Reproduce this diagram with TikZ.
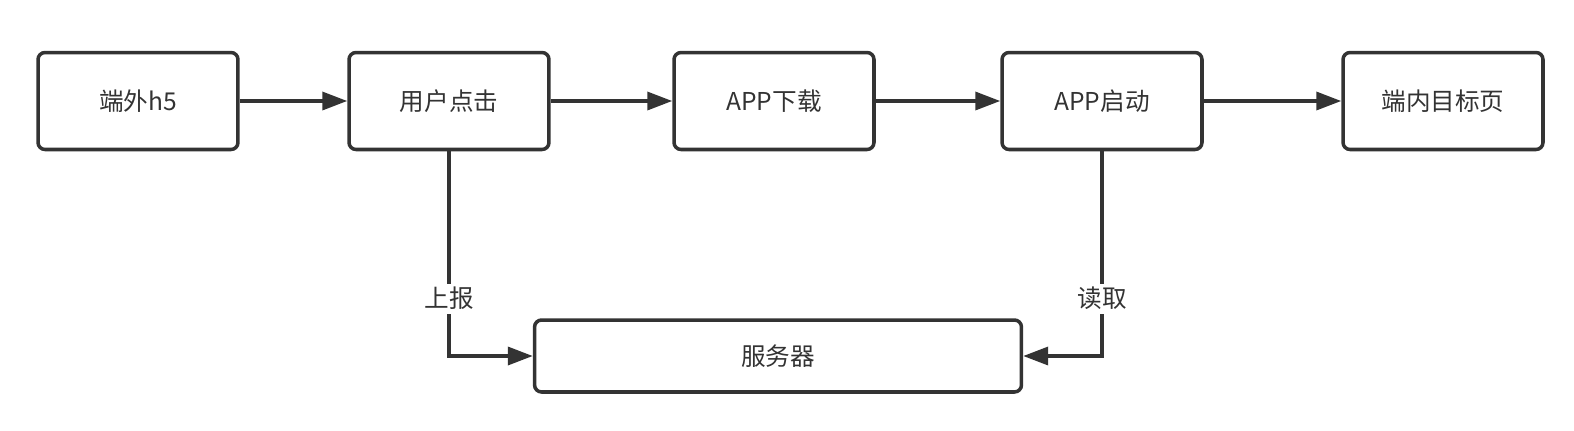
\documentclass[tikz,border=0pt]{standalone}
\usepackage{fontspec}
\setmainfont{Noto Sans CJK SC}
\usetikzlibrary{arrows.meta}
\definecolor{ink}{HTML}{333333}

\begin{document}
\begin{tikzpicture}[x=0.02cm,y=-0.02cm,font=\fontsize{14}{16}\selectfont,text=ink]
\tikzstyle{box}=[draw=ink,line width=2pt,rounded corners=4pt,minimum width=4cm,minimum height=1.94cm,inner sep=0pt]
\tikzstyle{edge}=[draw=ink,line width=2pt,-{Triangle[length=0.5cm,width=0.36cm]}]
\tikzstyle{tag}=[fill=white,inner sep=2pt]

\useasboundingbox (0,0) rectangle (1574,430);

\node[box] (0) at (138,101) {端外h5};
\node[box] (1) at (449,101) {用户点击};
\node[box] (2) at (774,101) {APP下载};
\node[box] (3) at (1102,101) {APP启动};
\node[box] (4) at (1443,101) {端内目标页};
\node[box,minimum width=9.74cm,minimum height=1.44cm] (5) at (778,356) {服务器};

\path (0) edge[edge] (1);
\path (1) edge[edge] (2);
\path (2) edge[edge] (3);
\path (3) edge[edge] (4);
\path[edge] (1.south) |- node[tag,pos=0.36] {上报} (5.west);
\path[edge] (3.south) |- node[tag,pos=0.36] {读取} (5.east);
\end{tikzpicture}
\end{document}
